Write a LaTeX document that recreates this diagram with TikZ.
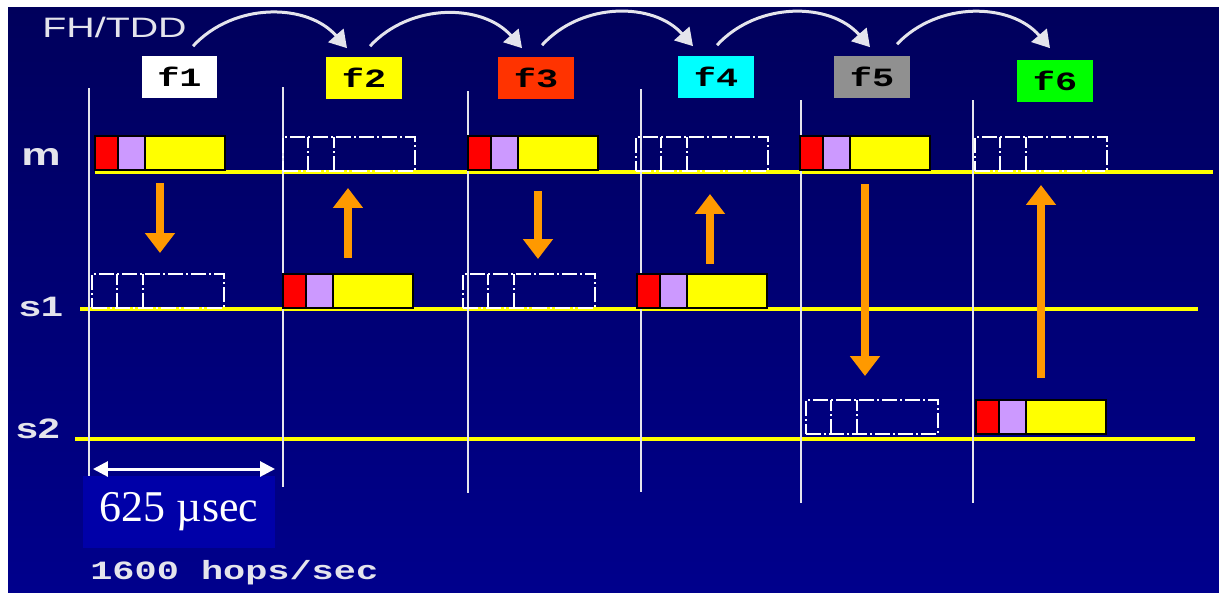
\documentclass[tikz,border=0pt]{standalone}
\usepackage{fontspec}
\setmainfont{Liberation Serif}
\newfontfamily\widesans[FakeStretch=1.4]{Liberation Sans}
\newfontfamily\widemono[FakeStretch=1.4]{Liberation Mono}
\usetikzlibrary{arrows.meta,positioning}
\definecolor{BgTop}{HTML}{00005C}
\definecolor{BgBottom}{HTML}{00008C}
\definecolor{PanelBlue}{HTML}{0000A8}
\definecolor{PktRed}{HTML}{FF0000}
\definecolor{PktLilac}{HTML}{CC99FF}
\definecolor{PktYellow}{HTML}{FFFF00}
\definecolor{SigOrange}{HTML}{FF9900}
\definecolor{HopRed}{HTML}{FF3300}
\definecolor{HopCyan}{HTML}{00FFFF}
\definecolor{HopGrey}{HTML}{909090}
\definecolor{HopGreen}{HTML}{00FF00}
\definecolor{SoftWhite}{HTML}{E4E4EC}

\begin{document}
\begin{tikzpicture}[x=0.02cm, y=-0.02cm,
  chan/.style={draw=PktYellow, line width=0.08cm},
  slotline/.style={draw=SoftWhite, line width=0.04cm},
  hopbox/.style={minimum width=1.52cm, minimum height=0.86cm, inner sep=0pt, text=black, font=\widemono\bfseries\fontsize{15}{17}\selectfont},
  pkt/.style={anchor=south west, minimum width=2.6cm, minimum height=0.68cm, inner sep=0pt, outer sep=0pt,
    fill=PktYellow, draw=black, line width=0.04cm,
    path picture={
      \fill[PktRed] (path picture bounding box.south west) rectangle ([xshift=0.46cm]path picture bounding box.north west);
      \fill[PktLilac] ([xshift=0.46cm]path picture bounding box.south west) rectangle ([xshift=1cm]path picture bounding box.north west);
      \draw[black, line width=0.04cm] ([xshift=0.46cm]path picture bounding box.south west) -- ([xshift=0.46cm]path picture bounding box.north west)
        ([xshift=1cm]path picture bounding box.south west) -- ([xshift=1cm]path picture bounding box.north west);}},
  ghost/.style={anchor=south west, minimum width=2.64cm, minimum height=0.68cm, inner sep=0pt, outer sep=0pt,
    draw=white, line width=0.04cm, dash pattern=on 0.3cm off 0.06cm on 0.04cm off 0.06cm,
    path picture={
      \draw[white, line width=0.04cm, dash pattern=on 0.3cm off 0.06cm on 0.04cm off 0.06cm]
        ([xshift=0.5cm]path picture bounding box.south west) -- ([xshift=0.5cm]path picture bounding box.north west)
        ([xshift=1.02cm]path picture bounding box.south west) -- ([xshift=1.02cm]path picture bounding box.north west);}},
  sig/.style={draw=SigOrange, line width=0.16cm, -{Triangle[width=0.58cm,length=0.4cm]}},
  hop/.style={draw=SoftWhite, line width=0.06cm, -{Triangle[width=0.4cm,length=0.34cm]}},
  rowlbl/.style={anchor=base, inner sep=0pt, text=SoftWhite, font=\widesans\bfseries\fontsize{16}{18}\selectfont}]

% background
\fill[white] (0,0) rectangle (1219,592);
\shade[top color=BgTop, bottom color=BgBottom] (8,7) rectangle (1219,592);
\useasboundingbox (0,0) rectangle (1219,592);

% channels and slots
\draw[chan] (95,172) -- (1213,172);
\draw[chan] (80,309) -- (1198,309);
\draw[chan] (75,439) -- (1195,439);
\foreach \x/\a/\b in {89/88/476, 283/87/487, 468/91/493, 641/89/492, 801/100/503, 973/100/503}
  \draw[slotline] (\x,\a) -- (\x,\b);

\node[anchor=base west, inner sep=0pt, text=SoftWhite, font=\widesans\fontsize{16}{18}\selectfont] (mode) at (42,37) {FH/TDD};
\node[rowlbl, font=\widesans\bfseries\fontsize{18}{20}\selectfont] (lm) at (41,165) {m};
\node[rowlbl] (ls1) at (41,316) {s1};
\node[rowlbl] (ls2) at (38,438) {s2};

% hop frequencies
\node[hopbox, fill=white] (f1) at (179.5,77) {f1};
\node[hopbox, fill=PktYellow] (f2) at (364,78) {f2};
\node[hopbox, fill=HopRed] (f3) at (536,78) {f3};
\node[hopbox, fill=HopCyan] (f4) at (716,77) {f4};
\node[hopbox, fill=HopGrey] (f5) at (872,77) {f5};
\node[hopbox, fill=HopGreen] (f6) at (1055,81) {f6};
\draw[hop] ([xshift=0.27cm,yshift=0.18cm]f1.north) to[bend left=48] ([xshift=-0.34cm,yshift=0.16cm]f2.north);
\draw[hop] ([xshift=0.12cm,yshift=0.2cm]f2.north) to[bend left=48] ([xshift=-0.28cm,yshift=0.16cm]f3.north);
\draw[hop] ([xshift=0.12cm,yshift=0.22cm]f3.north) to[bend left=48] ([xshift=-0.46cm,yshift=0.18cm]f4.north);
\draw[hop] ([xshift=0.02cm,yshift=0.2cm]f4.north) to[bend left=48] ([xshift=-0.04cm,yshift=0.16cm]f5.north);
\draw[hop] ([xshift=0.5cm,yshift=0.22cm]f5.north) to[bend left=48] ([xshift=-0.1cm,yshift=0.22cm]f6.north);

% packets
\foreach \nm/\x/\y in {m-1/95/170, m-3/468/170, m-5/800/170, s1-2/283/308, s1-4/637/308, s2-6/976/434}
  \node[pkt] (\nm) at (\x,\y) {};
\foreach \nm/\x/\y in {m-2/283/171, m-4/636/171, m-6/975/171, s1-1/92/308, s1-3/463/308, s2-5/806/434}
  \node[ghost] (\nm) at (\x,\y) {};

% master / slave exchanges
\draw[sig, shorten <=0.26cm, shorten >=0.42cm] (m-1.south) -- (m-1.south |- s1-1.north);
\draw[sig, shorten <=0.32cm, shorten >=0.34cm] (s1-2.north) -- (s1-2.north |- m-2.south);
\draw[sig, shorten <=0.42cm, shorten >=0.3cm] ([xshift=0.1cm]m-3.south) -- ([xshift=0.1cm]m-3.south |- s1-3.north);
\draw[sig, shorten <=0.2cm, shorten >=0.46cm] ([xshift=0.16cm]s1-4.north) -- ([xshift=0.16cm]s1-4.north |- m-4.south);
\draw[sig, shorten <=0.28cm, shorten >=0.48cm] (m-5.south) -- (m-5.south |- s2-5.north);
\draw[sig, shorten <=0.44cm, shorten >=0.28cm] (s2-6.north) -- (s2-6.north |- m-6.south);

% slot length
\node[fill=PanelBlue, minimum width=3.84cm, minimum height=1.44cm, inner sep=0pt, text=white, font=\fontsize{25}{28}\selectfont] (slot) at (179,512) {625 µsec};
\coordinate (w1) at (93,469);
\coordinate (w2) at (275,469);
\draw[white, line width=0.06cm, {Triangle[width=0.3cm,length=0.3cm]}-{Triangle[width=0.3cm,length=0.3cm]}] (w1) -- (w2);
\node[anchor=base west, inner sep=0pt, text=SoftWhite, font=\widemono\bfseries\fontsize{15}{17}\selectfont] (rate) at (90,579) {1600 hops/sec};
\end{tikzpicture}
\end{document}
